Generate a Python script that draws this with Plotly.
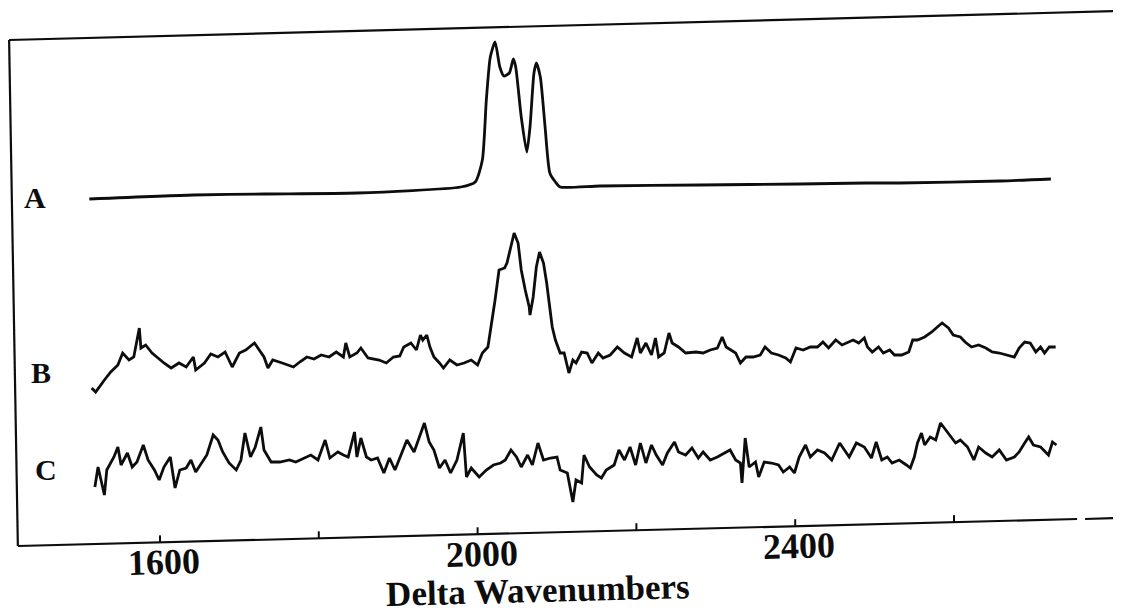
import plotly.graph_objects as go

# ---- data (x: Delta wavenumbers, y: relative intensity, arbitrary offset units) ----
a_x = [1511, 1642, 1731, 1848, 1979, 1997, 2006, 2011, 2016, 2022, 2028, 2033, 2040, 2045,
       2048, 2055, 2062, 2066, 2071, 2074, 2079, 2085, 2091, 2098, 2104, 2154, 2280, 2406,
       2490, 2532, 2658, 2722]
a_y = [414, 418, 419, 420, 426, 431, 453, 513, 556, 571, 546, 537, 540, 554,
       546, 496, 461, 486, 540, 550, 536, 486, 440, 431, 426, 427, 428, 429,
       430, 430, 432, 434]

b_x = [1514, 1519, 1530, 1538, 1547, 1553, 1561, 1567, 1574, 1576, 1582, 1590, 1596, 1605,
       1614, 1624, 1633, 1642, 1645, 1656, 1664, 1673, 1682, 1691, 1700, 1708, 1719, 1725,
       1731, 1736, 1742, 1754, 1768, 1776, 1785, 1794, 1803, 1813, 1822, 1831, 1834, 1839,
       1848, 1853, 1862, 1876, 1885, 1894, 1902, 1907, 1916, 1923, 1928, 1931, 1936, 1940,
       1945, 1952, 1957, 1965, 1974, 1983, 1992, 2000, 2006, 2013, 2017, 2022, 2027, 2034,
       2037, 2042, 2046, 2051, 2055, 2060, 2065, 2066, 2070, 2074, 2078, 2083, 2087, 2094,
       2098, 2104, 2109, 2115, 2120, 2124, 2131, 2138, 2144, 2152, 2158, 2167, 2176, 2185,
       2194, 2201, 2205, 2212, 2219, 2224, 2228, 2235, 2241, 2245, 2253, 2262, 2275, 2284,
       2293, 2302, 2308, 2313, 2325, 2331, 2338, 2347, 2356, 2362, 2370, 2379, 2388, 2394,
       2401, 2410, 2419, 2428, 2435, 2442, 2451, 2459, 2468, 2473, 2480, 2487, 2491, 2497,
       2505, 2511, 2519, 2525, 2534, 2543, 2548, 2554, 2563, 2572, 2579, 2585, 2593, 2599,
       2608, 2614, 2622, 2631, 2640, 2648, 2657, 2666, 2676, 2682, 2689, 2696, 2703, 2709,
       2714, 2720, 2728]
b_y = [225, 221, 233, 241, 248, 260, 253, 256, 285, 265, 268, 260, 256, 250,
       245, 250, 246, 256, 243, 250, 259, 256, 261, 246, 260, 263, 270, 263,
       256, 245, 253, 250, 246, 251, 256, 254, 258, 256, 261, 256, 270, 256,
       260, 265, 255, 253, 250, 256, 257, 266, 270, 263, 278, 273, 278, 266,
       256, 250, 245, 253, 248, 250, 253, 248, 260, 266, 286, 313, 343, 345,
       350, 366, 380, 370, 343, 323, 306, 298, 316, 346, 361, 350, 330, 286,
       273, 260, 260, 240, 253, 250, 261, 260, 250, 260, 255, 258, 266, 260,
       256, 275, 260, 270, 258, 275, 256, 260, 280, 270, 266, 260, 261, 260,
       263, 265, 276, 266, 260, 250, 256, 256, 258, 266, 260, 258, 255, 251,
       265, 263, 266, 266, 271, 265, 273, 268, 271, 273, 270, 275, 266, 261,
       266, 260, 263, 258, 258, 261, 273, 273, 276, 281, 286, 290, 285, 278,
       276, 271, 266, 268, 265, 261, 260, 258, 256, 265, 271, 270, 261, 266,
       260, 266, 266]

c_x = [1518, 1522, 1530, 1533, 1542, 1547, 1551, 1559, 1565, 1571, 1579, 1585, 1593, 1599,
       1605, 1613, 1619, 1625, 1633, 1639, 1645, 1653, 1659, 1667, 1673, 1679, 1687, 1696,
       1702, 1707, 1714, 1720, 1727, 1731, 1740, 1751, 1763, 1771, 1782, 1790, 1799, 1808,
       1814, 1824, 1831, 1837, 1845, 1848, 1853, 1860, 1866, 1874, 1882, 1889, 1896, 1905,
       1911, 1920, 1928, 1933, 1939, 1945, 1952, 1959, 1966, 1974, 1982, 1986, 1992, 2002,
       2011, 2020, 2029, 2035, 2042, 2049, 2055, 2063, 2069, 2076, 2083, 2092, 2100, 2104,
       2113, 2120, 2124, 2131, 2134, 2141, 2150, 2156, 2162, 2172, 2178, 2185, 2192, 2199,
       2205, 2212, 2219, 2225, 2233, 2239, 2248, 2253, 2262, 2270, 2278, 2284, 2293, 2302,
       2311, 2318, 2325, 2331, 2333, 2337, 2342, 2350, 2354, 2361, 2370, 2379, 2385, 2393,
       2399, 2405, 2413, 2419, 2428, 2437, 2446, 2456, 2462, 2468, 2477, 2487, 2496, 2502,
       2509, 2516, 2522, 2531, 2540, 2545, 2550, 2554, 2559, 2563, 2570, 2577, 2583, 2588,
       2594, 2602, 2608, 2617, 2625, 2631, 2640, 2648, 2657, 2666, 2676, 2682, 2689, 2694,
       2700, 2709, 2719, 2724, 2729]
c_y = [126, 146, 118, 143, 156, 166, 148, 160, 146, 151, 168, 153, 143, 133,
       146, 156, 125, 143, 145, 153, 141, 150, 158, 178, 173, 161, 150, 143,
       153, 180, 156, 166, 186, 163, 151, 151, 153, 151, 155, 158, 153, 173,
       155, 161, 158, 156, 181, 156, 175, 156, 153, 155, 140, 155, 143, 160,
       173, 161, 180, 190, 171, 163, 145, 153, 140, 153, 180, 136, 145, 136,
       143, 148, 150, 153, 163, 156, 146, 158, 148, 170, 153, 155, 156, 143,
       140, 111, 133, 130, 158, 146, 138, 135, 143, 148, 163, 153, 166, 148,
       170, 150, 168, 158, 148, 160, 171, 161, 158, 165, 155, 161, 153, 156,
       160, 163, 153, 150, 130, 175, 146, 151, 136, 151, 150, 148, 141, 146,
       140, 156, 168, 156, 163, 160, 153, 170, 163, 156, 170, 166, 155, 171,
       153, 156, 150, 153, 148, 145, 156, 170, 180, 168, 176, 173, 190, 185,
       178, 170, 173, 166, 153, 166, 160, 156, 163, 153, 156, 161, 170, 176,
       168, 166, 158, 171, 168]

trace_names = ["A", "B", "C"]
trace_label_x = [1443, 1450, 1457]
trace_label_y = [416, 241, 144]

tick_all = [1600, 1800, 2000, 2200, 2400, 2600]
tick_labels = {1600: "1600", 2000: "2000", 2400: "2400"}
x_title = "Delta Wavenumbers"

# ---- figure ----
INK = "#0d0d0d"
SERIF = "Liberation Serif"
fig = go.Figure()
for xs, ys, nm, shp in [(a_x, a_y, "A", "spline"), (b_x, b_y, "B", "linear"),
                        (c_x, c_y, "C", "linear")]:
    fig.add_trace(go.Scatter(x=xs, y=ys, mode="lines", name=nm,
                             line=dict(color=INK, width=2.8, shape=shp, smoothing=0.6),
                             showlegend=False, hoverinfo="skip"))

# the page body adds an 8 px offset; the figure is sized and ranged to compensate
X0, X1 = 1408.6, 2810.3
Y0, Y1 = 0, 605

# tilted frame (the scanned figure is rotated slightly)
frame_segments = [
    ((1410, 573), (2810, 602)),   # top
    ((1410, 573), (1421, 67)),    # left
    ((1421, 67), (2755, 94)),     # bottom
    ((2765, 94), (2810, 95)),     # bottom, after gap
]
shapes = []
for (xa, ya), (xb, yb) in frame_segments:
    shapes.append(dict(type="line", xref="x", yref="y", x0=xa, y0=ya, x1=xb, y1=yb,
                       line=dict(color=INK, width=2.2)))


def base_y(v):
    return 67 + (v - 1421) * (27 / 1334.5)


for v in tick_all:
    by = base_y(v)
    shapes.append(dict(type="line", xref="x", yref="y", x0=v, y0=by, x1=v, y1=by + 7,
                       line=dict(color=INK, width=2)))

annotations = []
for v, t in tick_labels.items():
    annotations.append(dict(x=v + 5, y=base_y(v) - 19.5, xref="x", yref="y", text=t,
                            showarrow=False, xanchor="center", yanchor="middle",
                            textangle=-1.5, borderpad=0,
                            font=dict(family=SERIF, size=36, color=INK, weight="bold")))
annotations.append(dict(x=2076, y=23, xref="x", yref="y", text=x_title, showarrow=False,
                        xanchor="center", yanchor="middle", textangle=-1.5, borderpad=0,
                        font=dict(family=SERIF, size=35, color=INK, weight="bold")))
for nm, lx, ly in zip(trace_names, trace_label_x, trace_label_y):
    annotations.append(dict(x=lx, y=ly, xref="x", yref="y", text=nm, showarrow=False,
                            xanchor="center", yanchor="middle", borderpad=0,
                            font=dict(family=SERIF, size=30, color=INK, weight="bold")))

fig.update_layout(
    width=1113, height=605,
    margin=dict(l=0, r=0, t=0, b=0),
    paper_bgcolor="white", plot_bgcolor="white",
    xaxis=dict(range=[X0, X1], visible=False),
    yaxis=dict(range=[Y0, Y1], visible=False),
    shapes=shapes, annotations=annotations,
)
fig.write_html("out.html")
